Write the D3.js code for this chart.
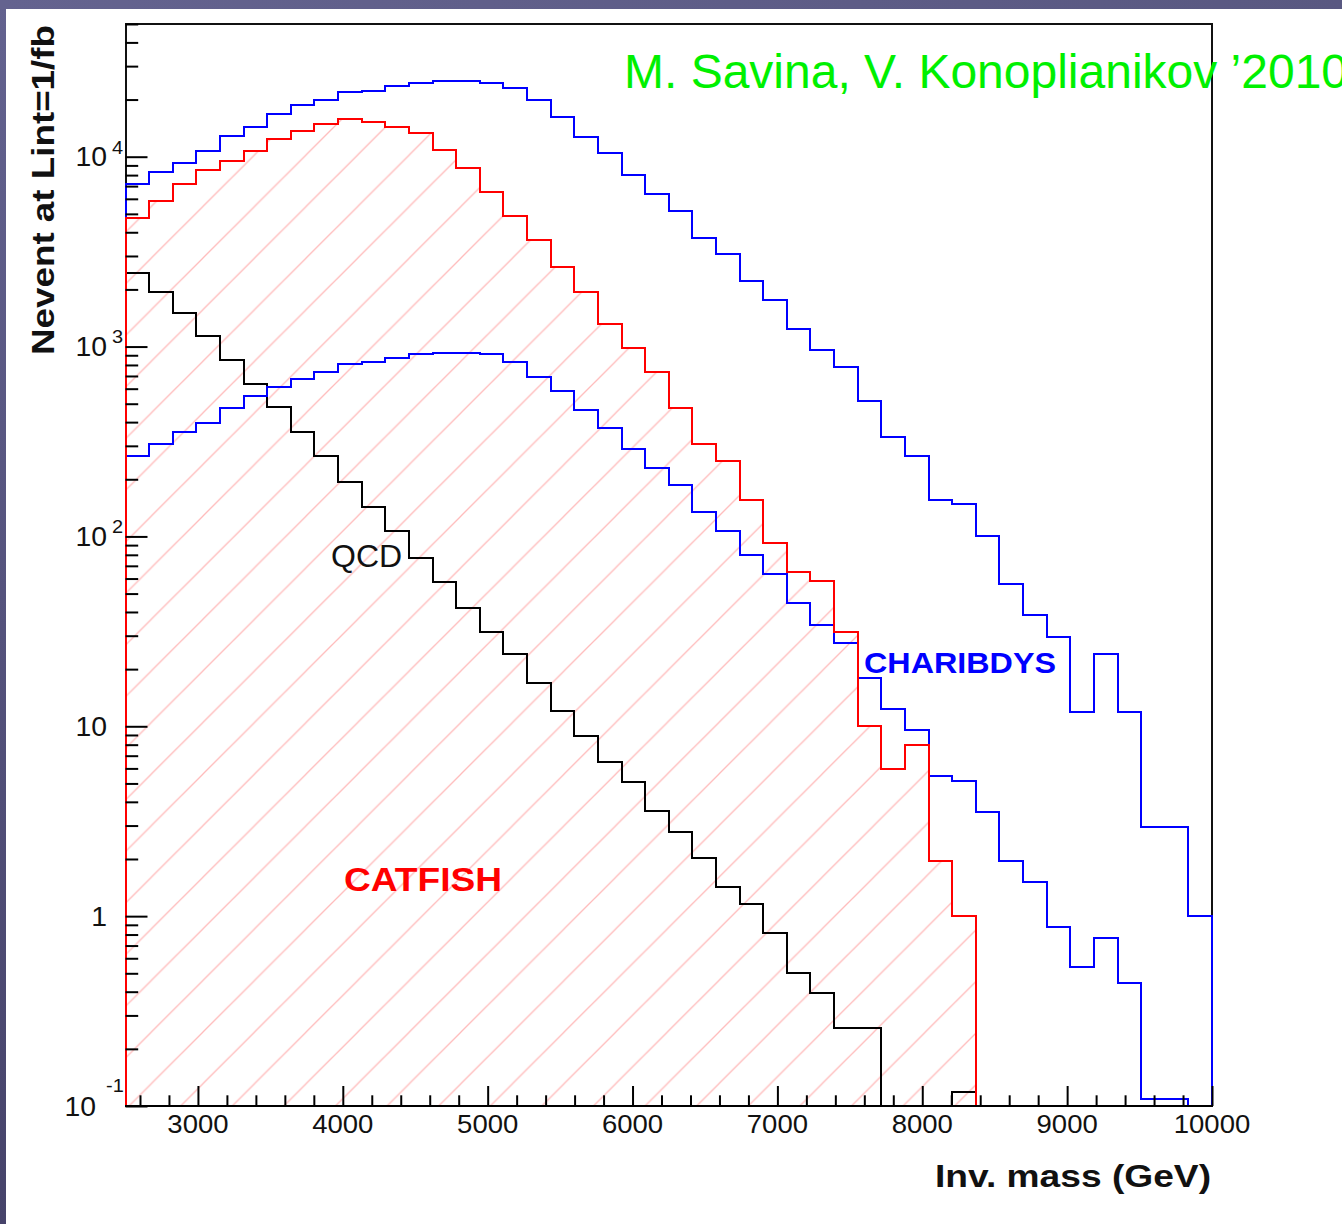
<!DOCTYPE html>
<html>
<head>
<meta charset="utf-8">
<script src="https://cdn.jsdelivr.net/npm/d3@7"></script>
<style>
  html, body { margin: 0; padding: 0; background: #fff; }
  svg { display: block; }
</style>
</head>
<body>
<svg id="chart" width="1342" height="1224"></svg>
<script>
// Invariant-mass spectra, 46 equal bins between 2.5 and 10 TeV (events for 1/fb)
const massMin = 2500;
const massMax = 10000;
const binCount = 46;

// CHARIBDYS, upper curve
const charibdysA = [7150, 8270, 9290, 10700, 12900, 14300, 16700, 18800, 20000, 21800,
  22300, 23500, 24300, 25100, 25100, 24300, 23000, 19900, 16100, 12700,
  10400, 8000, 6330, 5170, 3740, 3070, 2220, 1760, 1240, 956,
  777, 518, 335, 266, 156, 148, 101, 56.1, 38.6, 29.4,
  11.9, 24.0, 11.9, 2.94, 2.94, 1.0];

// CHARIBDYS, lower curve
const charibdysB = [265, 305, 353, 397, 476, 549, 614, 672, 737, 806,
  829, 875, 910, 927, 927, 910, 826, 693, 581, 463,
  374, 289, 228, 187, 135, 107, 79.5, 63.2, 44.4, 34.2,
  27.4, 18.0, 12.3, 9.56, 5.47, 5.13, 3.52, 1.96, 1.51, 0.874,
  0.542, 0.771, 0.443, 0.109, 0.109, 0];

// CATFISH (hatched)
const catfish = [4780, 5840, 7150, 8500, 9540, 10700, 12400, 13600, 14900, 15800,
  15300, 14400, 13300, 10800, 8740, 6540, 4880, 3640, 2630, 1930,
  1310, 985, 731, 473, 305, 249, 155, 92.6, 64.7, 58.2,
  31.3, 10.0, 5.96, 7.94, 1.96, 1.0, 0, 0, 0, 0,
  0, 0, 0, 0, 0, 0];

// QCD background
const qcd = [2430, 1930, 1500, 1140, 849, 632, 478, 353, 265, 194,
  143, 107, 77.2, 57.7, 42.1, 31.3, 24.1, 17.0, 12.0, 8.92,
  6.46, 5.11, 3.59, 2.79, 2.02, 1.42, 1.16, 0.813, 0.500, 0.393,
  0.257, 0.257, 0, 0, 0, 0.119, 0, 0, 0, 0,
  0, 0, 0, 0, 0, 0];

const xMajorTicks = [3000, 4000, 5000, 6000, 7000, 8000, 9000, 10000];
const xTickLabels = ["3000", "4000", "5000", "6000", "7000", "8000", "9000", "10000"];
const yExponents = [-1, 0, 1, 2, 3, 4];
const yTickLabels = ["10", "1", "10", "10", "10", "10"];
const yTickSupers = ["-1", "", "", "2", "3", "4"];

const W = 1342, H = 1224;
const plot = { left: 125.5, right: 1212, top: 24, bottom: 1106 };
const fontFamily = "'Liberation Sans', Arial, Helvetica, sans-serif";

const svg = d3.select("#chart");

const x = d3.scaleLinear().domain([massMin, massMax]).range([plot.left, plot.right]);
const y = d3.scaleLog().domain([0.1, 50000]).range([plot.bottom, plot.top]);

const edges = d3.range(binCount + 1).map(i => massMin + i * (massMax - massMin) / binCount);

// ---------- slide background ----------
const defs = svg.append("defs");
const sideGrad = defs.append("linearGradient").attr("id", "sideGrad")
  .attr("x1", 0).attr("y1", 0).attr("x2", 0).attr("y2", 1);
sideGrad.append("stop").attr("offset", "0%").attr("stop-color", "#63628f");
sideGrad.append("stop").attr("offset", "100%").attr("stop-color", "#46436a");
const topGrad = defs.append("linearGradient").attr("id", "topGrad")
  .attr("x1", 0).attr("y1", 0).attr("x2", 1).attr("y2", 0);
topGrad.append("stop").attr("offset", "0%").attr("stop-color", "#64638f");
topGrad.append("stop").attr("offset", "100%").attr("stop-color", "#595881");

svg.append("rect").attr("width", W).attr("height", H).attr("fill", "#fff");
svg.append("rect").attr("x", 0).attr("y", 0).attr("width", 6).attr("height", H).attr("fill", "url(#sideGrad)");
svg.append("rect").attr("x", 0).attr("y", 0).attr("width", W).attr("height", 9).attr("fill", "url(#topGrad)");

// ---------- hatch pattern (45 degree lines) ----------
const hatchStep = 51.6;
const hatch = defs.append("pattern").attr("id", "hatch")
  .attr("patternUnits", "userSpaceOnUse")
  .attr("x", 48.2).attr("y", 0)
  .attr("width", hatchStep).attr("height", hatchStep);
[[0, hatchStep, hatchStep, 0], [-2, 2, 2, -2], [hatchStep - 2, hatchStep + 2, hatchStep + 2, hatchStep - 2]]
  .forEach(([x1, y1, x2, y2]) => {
    hatch.append("line").attr("x1", x1).attr("y1", y1).attr("x2", x2).attr("y2", y2)
      .attr("stroke", "#ff6a6a").attr("stroke-opacity", 0.45).attr("stroke-width", 1.3);
  });

defs.append("clipPath").attr("id", "plotClip")
  .append("rect")
  .attr("x", plot.left - 2).attr("y", plot.top - 1)
  .attr("width", plot.right - plot.left + 4).attr("height", plot.bottom - plot.top + 2);

// ---------- frame ----------
svg.append("rect")
  .attr("x", plot.left).attr("y", plot.top)
  .attr("width", plot.right - plot.left).attr("height", plot.bottom - plot.top)
  .attr("fill", "none").attr("stroke", "#111").attr("stroke-width", 2)
  .attr("shape-rendering", "crispEdges");

// ---------- histograms ----------
const yPix = v => (v > 0.1 ? y(v) : plot.bottom);

function stepPoints(values) {
  const pts = [[edges[0], null]];
  values.forEach((v, i) => pts.push([edges[i], v]));
  pts.push([edges[binCount], values[binCount - 1]]);
  pts.push([edges[binCount], null]);
  return pts;
}

const stepLine = d3.line()
  .x(d => x(d[0]))
  .y(d => (d[1] === null ? plot.bottom : yPix(d[1])))
  .curve(d3.curveStepAfter);

const gHist = svg.append("g").attr("clip-path", "url(#plotClip)");

// hatched CATFISH area
gHist.append("path")
  .attr("d", stepLine(stepPoints(catfish)) + "Z")
  .attr("fill", "url(#hatch)")
  .attr("stroke", "none");

const series = [
  { values: qcd, color: "#000000" },
  { values: charibdysB, color: "#0000ff" },
  { values: charibdysA, color: "#0000ff" },
  { values: catfish, color: "#ff0000" }
];
gHist.selectAll("path.hist")
  .data(series)
  .join("path")
  .attr("class", "hist")
  .attr("d", s => stepLine(stepPoints(s.values)))
  .attr("fill", "none")
  .attr("stroke", s => s.color)
  .attr("stroke-width", 2)
  .attr("stroke-linejoin", "miter")
  .attr("shape-rendering", "crispEdges");

// ---------- x axis ----------
svg.append("line")
  .attr("x1", plot.left - 1).attr("x2", plot.right + 1)
  .attr("y1", plot.bottom).attr("y2", plot.bottom)
  .attr("stroke", "#000").attr("stroke-width", 2)
  .attr("shape-rendering", "crispEdges");

const xMinorTicks = d3.range(massMin + 100, massMax, 200).filter(v => v % 1000 !== 0);

function styleTicks(g) {
  g.select(".domain").remove();
  g.selectAll(".tick line").attr("stroke", "#000").attr("stroke-width", 2);
  g.selectAll(".tick text").remove();
}

svg.append("g").attr("transform", `translate(0,${plot.bottom})`)
  .call(d3.axisTop(x).tickValues(xMinorTicks).tickSize(10.7).tickSizeOuter(0).tickFormat(""))
  .call(styleTicks);
svg.append("g").attr("transform", `translate(0,${plot.bottom})`)
  .call(d3.axisTop(x).tickValues(xMajorTicks).tickSize(20).tickSizeOuter(0).tickFormat(""))
  .call(styleTicks);

function stretchedText(str, px, py, o) {
  return svg.append("text")
    .attr("transform", `translate(${px},${py}) scale(${o.sx || 1},1)`)
    .attr("text-anchor", o.anchor || "start")
    .attr("font-family", fontFamily)
    .attr("font-size", o.size)
    .attr("font-weight", o.weight || "normal")
    .attr("fill", o.fill || "#111")
    .text(str);
}

xMajorTicks.forEach((v, i) => {
  stretchedText(xTickLabels[i], x(v), 1133, { size: 25, sx: 1.1, anchor: "middle" });
});

// ---------- y axis ----------
const yMinorTicks = [];
yExponents.forEach(k => {
  d3.range(2, 10).forEach(m => {
    const v = m * Math.pow(10, k);
    if (v <= 50000) yMinorTicks.push(v);
  });
});
const yMajorTicks = yExponents.map(k => Math.pow(10, k));

svg.append("g").attr("transform", `translate(${plot.left},0)`)
  .call(d3.axisRight(y).tickValues(yMinorTicks).tickSize(12.7).tickSizeOuter(0).tickFormat(""))
  .call(styleTicks);
svg.append("g").attr("transform", `translate(${plot.left},0)`)
  .call(d3.axisRight(y).tickValues(yMajorTicks).tickSize(22).tickSizeOuter(0).tickFormat(""))
  .call(styleTicks);

yMajorTicks.forEach((v, i) => {
  const ty = y(v);
  const neg = yExponents[i] < 0;
  stretchedText(yTickLabels[i], neg ? 96 : 107, ty + 9.7, { size: 27, sx: 1.05, anchor: "end" });
  if (yTickSupers[i]) {
    stretchedText(yTickSupers[i], neg ? 106 : 112, neg ? ty - 14 : ty - 3.2, { size: 19, sx: 1.05 });
  }
});

// ---------- titles ----------
svg.append("text")
  .attr("transform", "translate(54,25) rotate(-90)")
  .attr("text-anchor", "end")
  .attr("font-family", fontFamily)
  .attr("font-size", 32)
  .attr("font-weight", "bold")
  .attr("fill", "#111")
  .attr("textLength", 330)
  .attr("lengthAdjust", "spacingAndGlyphs")
  .text("Nevent at Lint=1/fb");

svg.append("text")
  .attr("x", 1211).attr("y", 1187)
  .attr("text-anchor", "end")
  .attr("font-family", fontFamily)
  .attr("font-size", 32)
  .attr("font-weight", "bold")
  .attr("fill", "#111")
  .attr("textLength", 276)
  .attr("lengthAdjust", "spacingAndGlyphs")
  .text("Inv. mass (GeV)");

// ---------- in-plot labels ----------
svg.append("text")
  .attr("x", 331).attr("y", 566.5)
  .attr("font-family", fontFamily).attr("font-size", 32)
  .attr("fill", "#111")
  .text("QCD");

svg.append("text")
  .attr("x", 344).attr("y", 890.5)
  .attr("font-family", fontFamily).attr("font-size", 33)
  .attr("font-weight", "bold").attr("fill", "#ff0000")
  .attr("textLength", 158).attr("lengthAdjust", "spacingAndGlyphs")
  .text("CATFISH");

svg.append("text")
  .attr("x", 864).attr("y", 673.3)
  .attr("font-family", fontFamily).attr("font-size", 30)
  .attr("font-weight", "bold").attr("fill", "#0000ff")
  .attr("textLength", 192).attr("lengthAdjust", "spacingAndGlyphs")
  .text("CHARIBDYS");

svg.append("text")
  .attr("x", 624).attr("y", 88.3)
  .attr("font-family", fontFamily).attr("font-size", 48)
  .attr("fill", "#00f000")
  .text("M. Savina, V. Konoplianikov \u20192010");
</script>
</body>
</html>
